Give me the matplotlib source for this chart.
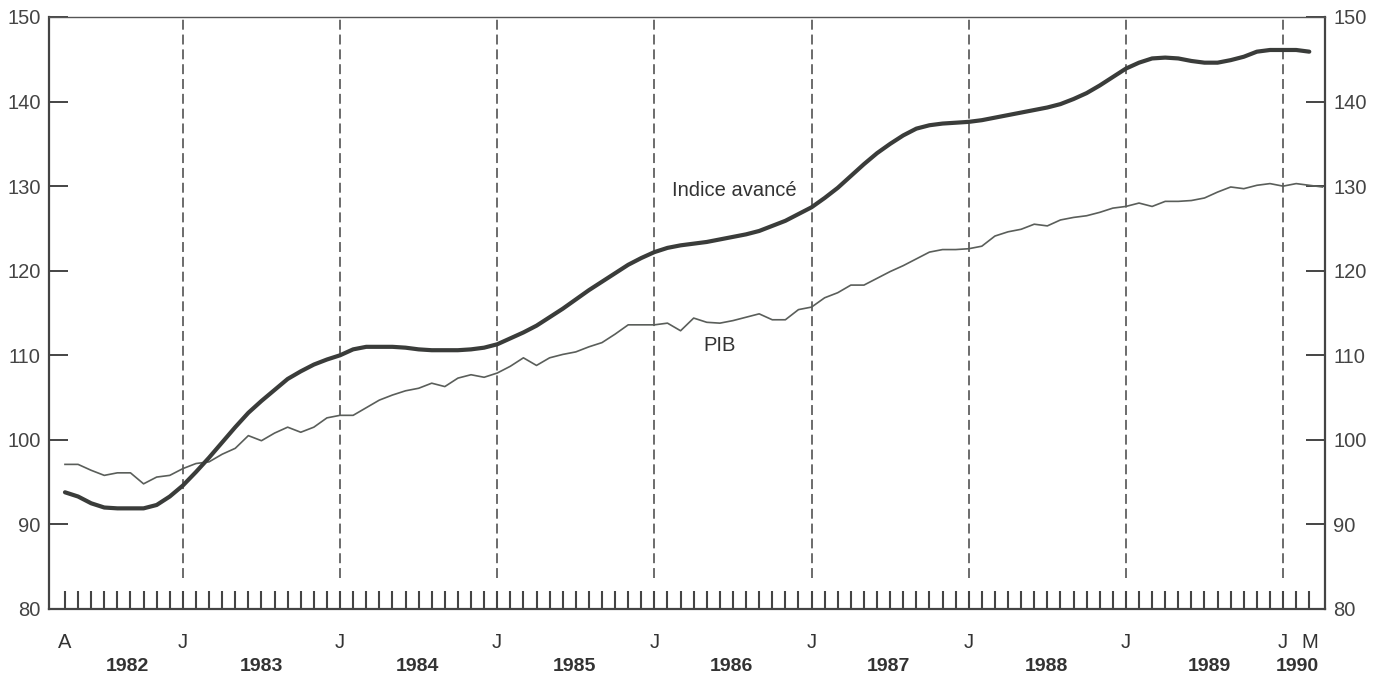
import matplotlib
matplotlib.use("Agg")
import matplotlib.pyplot as plt
import matplotlib.transforms as mtransforms

plt.rcParams['font.family'] = ['Liberation Sans', 'DejaVu Sans']

# Month index 0 = April 1982 ... 95 = March 1990
indice_avance = [
    93.8, 93.3, 92.5, 92.0, 91.9, 91.9, 91.9, 92.3, 93.3, 94.6,
    96.2, 97.9, 99.7, 101.5, 103.2, 104.6, 105.9, 107.2, 108.1, 108.9,
    109.5, 110.0, 110.7, 111.0, 111.0, 111.0, 110.9, 110.7, 110.6, 110.6,
    110.6, 110.7, 110.9, 111.3, 112.0, 112.7, 113.5, 114.5, 115.5, 116.6,
    117.7, 118.7, 119.7, 120.7, 121.5, 122.2, 122.7, 123.0, 123.2, 123.4,
    123.7, 124.0, 124.3, 124.7, 125.3, 125.9, 126.7, 127.5, 128.6, 129.8,
    131.2, 132.6, 133.9, 135.0, 136.0, 136.8, 137.2, 137.4, 137.5, 137.6,
    137.8, 138.1, 138.4, 138.7, 139.0, 139.3, 139.7, 140.3, 141.0, 141.9,
    142.9, 143.9, 144.6, 145.1, 145.2, 145.1, 144.8, 144.6, 144.6, 144.9,
    145.3, 145.9, 146.1, 146.1, 146.1, 145.9,
]
pib = [
    97.1, 97.1, 96.4, 95.8, 96.1, 96.1, 94.8, 95.6, 95.8, 96.6,
    97.2, 97.4, 98.3, 99.0, 100.5, 99.9, 100.8, 101.5, 100.9, 101.5,
    102.6, 102.9, 102.9, 103.8, 104.7, 105.3, 105.8, 106.1, 106.7, 106.3,
    107.3, 107.7, 107.4, 107.9, 108.7, 109.7, 108.8, 109.7, 110.1, 110.4,
    111.0, 111.5, 112.5, 113.6, 113.6, 113.6, 113.8, 112.9, 114.4, 113.9,
    113.8, 114.1, 114.5, 114.9, 114.2, 114.2, 115.4, 115.7, 116.8, 117.4,
    118.3, 118.3, 119.1, 119.9, 120.6, 121.4, 122.2, 122.5, 122.5, 122.6,
    122.9, 124.1, 124.6, 124.9, 125.5, 125.3, 126.0, 126.3, 126.5, 126.9,
    127.4, 127.6, 128.0, 127.6, 128.2, 128.2, 128.3, 128.6, 129.3, 129.9,
    129.7, 130.1, 130.3, 130.0, 130.3, 130.1, 129.9,
]
# labelled months: index -> letter
month_label_idx = [0, 9, 21, 33, 45, 57, 69, 81, 93, 95]
month_label_txt = ['A', 'J', 'J', 'J', 'J', 'J', 'J', 'J', 'J', 'M']
january_idx = [9, 21, 33, 45, 57, 69, 81, 93]
years = ['1982', '1983', '1984', '1985', '1986', '1987', '1988', '1989', '1990']
year_pos = [4.8, 15.0, 26.9, 38.9, 50.9, 62.9, 74.9, 87.4, 94.1]
yticks = [80, 90, 100, 110, 120, 130, 140, 150]

dark = '#3a3c3a'
thin_c = '#5a5e5a'

fig = plt.figure(figsize=(13.83, 6.78), dpi=100)
ax = fig.add_axes([49/1383, 1-609/678, (1325-49)/1383, (609-17)/678])

ax.plot(range(len(pib)), pib, color=thin_c, lw=1.2, zorder=3)
ax.plot(range(len(indice_avance)), indice_avance, color=dark, lw=3.0,
        solid_capstyle='round', zorder=4)

for j in january_idx:
    ax.axvline(j, ymin=0.052, ymax=1, color='#444444', lw=1.1,
               linestyle=(0, (6.5, 3.2)), zorder=2)

ax.set_xlim(-1.22, 96.2)
ax.set_ylim(80, 150)

ax.set_xticks(range(96))
labels = [''] * 96
for i, t in zip(month_label_idx, month_label_txt):
    labels[i] = t
ax.set_xticklabels(labels)
ax.tick_params(axis='x', direction='in', length=13, width=1.5, color='#444444',
               pad=17, labelsize=14.5, labelcolor='#333333')

ax.set_yticks(yticks)
ax.tick_params(axis='y', direction='in', length=14, width=1.4, color='#444444',
               left=True, right=True, labelleft=True, labelright=True,
               labelsize=14.5, labelcolor='#444444', pad=6)

for s in ['left', 'right', 'bottom']:
    ax.spines[s].set_linewidth(1.6)
    ax.spines[s].set_color('#444444')
ax.spines['top'].set_linewidth(1.0)
ax.spines['top'].set_color('#555555')

trans = mtransforms.blended_transform_factory(ax.transData, ax.transAxes)
for y, p in zip(years, year_pos):
    ax.text(p, -0.097, y, transform=trans, ha='center', va='center',
            fontsize=14, fontweight='bold', color='#333333')

ax.text(51.1, 129.5, 'Indice avancé', ha='center', va='center', fontsize=14.5,
        color='#333333')
ax.text(50.0, 111.1, 'PIB', ha='center', va='center', fontsize=14.5,
        color='#333333')

fig.savefig('out.png', dpi=100, facecolor='white')
